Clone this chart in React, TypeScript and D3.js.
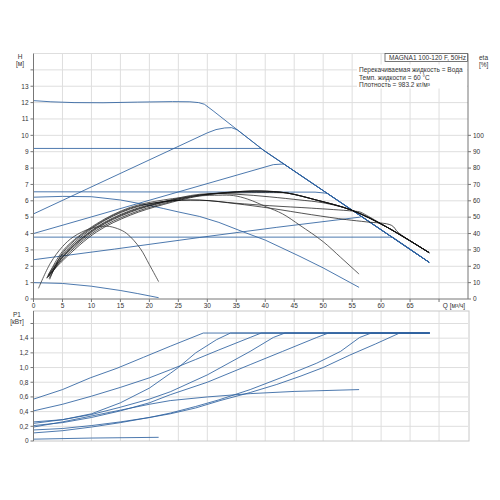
import React, { useEffect, useRef } from 'react';
import * as d3 from 'd3';

type Pt = [number, number];

// axis ticks
const qTicks = [0, 5, 10, 15, 20, 25, 30, 35, 40, 45, 50, 55, 60, 65, 70];
const qLabels = ['0', '5', '10', '15', '20', '25', '30', '35', '40', '45', '50', '55', '60', '65'];
const hTicks = [0, 1, 2, 3, 4, 5, 6, 7, 8, 9, 10, 11, 12, 13, 14];
const hLabels = ['0', '1', '2', '3', '4', '5', '6', '7', '8', '9', '10', '11', '12', '13'];
const etaTicks = [0, 10, 20, 30, 40, 50, 60, 70, 80, 90, 100];
const pTicks = [0, 0.2, 0.4, 0.6, 0.8, 1.0, 1.2, 1.4, 1.6];
const pLabels = ['0', '0,2', '0,4', '0,6', '0,8', '1,0', '1,2', '1,4'];

const infoLines = [
  'Перекачиваемая жидкость = Вода',
  'Темп. жидкости = 60 °C',
  'Плотность = 983.2 кг/м³',
];

// head curves H(Q) [m]
const hMaxTail: Pt[] = [[29.5, 11.9], [31, 11.5], [35.2, 10.33], [39.7, 9.09], [68.3, 2.24]];
const hMaxHead: Pt[] = [[0, 12.12], [3, 12.05], [7, 12.0], [12, 11.99], [18, 12.03], [24, 12.06], [27, 12.05], [28.5, 12.0]];
const h92Head: Pt[] = [[0, 9.2], [39.3, 9.2]];
const hP52Head: Pt[] = [[0, 5.2], [30, 10.15], [31.5, 10.35], [33, 10.45], [34.2, 10.47], [35.2, 10.33]];
const hP40Head: Pt[] = [[0, 4.0], [41.4, 8.21], [43.2, 8.25]];
const h655Head: Pt[] = [[0, 6.55], [48.6, 6.53], [50.7, 6.46]];
const hP24Head: Pt[] = [[0, 2.4], [14, 3.05], [28.7, 3.76], [42, 4.38], [56.3, 5.0], [56.6, 5.05]];
const h378Head: Pt[] = [[0, 3.78], [62, 3.78]];
const hD62: Pt[] = [[0, 6.22], [5, 6.27], [10, 6.25], [15, 6.05], [20, 5.72], [22.4, 5.53], [25, 5.32], [28.7, 5.04], [32, 4.68], [36.2, 4.1], [40, 3.6], [46, 2.6], [50, 1.9], [56.2, 0.71]];
const hMin: Pt[] = [[0, 1.0], [5, 0.95], [10, 0.78], [15, 0.52], [18, 0.33], [21.6, 0.08]];

// efficiency curves eta(Q) [%]
const etaMax: Pt[] = [[2.3, 13], [5.2, 24], [10.9, 41], [16.7, 51.2], [22.4, 57.7], [28.7, 63], [35, 65.5], [39.1, 66], [43.7, 64.8], [48.9, 60.4], [54.9, 54.3], [60.9, 44.1], [68.3, 28.3]];
const eta92Head: Pt[] = [[2.6, 13.5], [5.2, 25], [10.9, 42], [16.7, 52], [22.4, 58.3], [28.7, 63.3], [35, 65.3], [39.3, 65.8]];
const etaP52Head: Pt[] = [[2.5, 14], [5.2, 26], [10.9, 43], [16.7, 53], [22.4, 59], [28.7, 63.5], [35.2, 65.6]];
const etaP40Head: Pt[] = [[2.7, 12.5], [5.2, 26.5], [10.9, 43.5], [16.7, 53.5], [22.4, 59.2], [28.7, 63.5], [35, 64.8], [41.4, 65], [43.2, 64.9]];
const eta655Head: Pt[] = [[2.4, 13], [5.2, 27], [10.9, 44], [16.7, 54], [22.4, 59.5], [28.7, 64], [35, 64], [40.8, 62.4], [46, 60.5], [48.6, 59.5], [50.7, 58.3]];
const etaP24Head: Pt[] = [[2.5, 14.5], [5.2, 28], [10.9, 45], [16.7, 55], [22.4, 59.5], [28.7, 60.4], [35, 58.5], [40.8, 57], [48, 55.5], [54.9, 53.8], [56.3, 53.2], [57.3, 51.5]];
const eta378Head: Pt[] = [[2.8, 12], [5.2, 29], [10.9, 45.5], [16.7, 55.5], [22.4, 59.5], [28.7, 60.4], [35, 58.2], [40.8, 55.5], [48, 51.5], [54, 48.5], [57.5, 47.1], [61.8, 45], [63, 40.5]];
const etaD62: Pt[] = [[2.3, 12.6], [5.2, 30], [10.9, 46], [16.7, 56], [22.4, 60.5], [28.7, 63], [32, 63.4], [34.5, 63.2], [37, 61], [40.2, 56.3], [43, 52], [46, 45], [50, 35], [53, 25.5], [56.2, 15.2]];
const etaMin: Pt[] = [[0.86, 6.5], [2.9, 21.8], [5, 32], [6.9, 38], [9.8, 43], [12.6, 44.5], [14.5, 43], [16.1, 40], [18.4, 31], [20, 21], [21.6, 10.6]];

// power curves P1(Q) [kW]
const pLimit: Pt[] = [[68.4, 1.47]];
const pMax: Pt[] = [[0, 0.57], [5, 0.7], [9.8, 0.86], [14.4, 0.99], [19, 1.14], [23.6, 1.29], [29.3, 1.47]];
const p92: Pt[] = [[0, 0.41], [5, 0.5], [10, 0.61], [15, 0.73], [20, 0.86], [23.6, 0.97], [28, 1.11], [32, 1.24], [37.4, 1.41], [39.3, 1.47]];
const pP52: Pt[] = [[0, 0.26], [5, 0.29], [10, 0.37], [15, 0.52], [20, 0.72], [23.6, 0.92], [25, 1.0], [28, 1.2], [31.6, 1.38], [34, 1.47]];
const pP40: Pt[] = [[0, 0.24], [5, 0.29], [10, 0.36], [15, 0.46], [20, 0.57], [23.6, 0.67], [30, 0.9], [37.4, 1.22], [41.4, 1.41], [43.4, 1.47]];
const p655: Pt[] = [[0, 0.21], [5, 0.25], [10, 0.32], [15, 0.41], [20, 0.52], [23.6, 0.63], [30, 0.8], [37.4, 1.04], [43, 1.22], [48.9, 1.41], [50.9, 1.47]];
const pD62: Pt[] = [[0, 0.19], [5, 0.26], [10, 0.34], [15, 0.42], [20, 0.5], [23.6, 0.55], [30, 0.6], [37.4, 0.645], [45, 0.675], [56.2, 0.7]];
const pP24: Pt[] = [[0, 0.11], [5, 0.14], [10, 0.19], [15, 0.25], [20, 0.32], [23.6, 0.38], [28, 0.47], [32, 0.56], [37.4, 0.7], [43, 0.87], [48.9, 1.06], [53, 1.22], [56.3, 1.41], [58.3, 1.47]];
const p378: Pt[] = [[0, 0.15], [5, 0.17], [10, 0.21], [15, 0.26], [20, 0.32], [23.6, 0.37], [28, 0.45], [32.2, 0.55], [37.4, 0.66], [42, 0.77], [46, 0.88], [50, 1.0], [54.6, 1.17], [59, 1.32], [63.2, 1.47]];
const pMin: Pt[] = [[0, 0.025], [10, 0.04], [21.6, 0.05]];

// continue a control curve along the max curve after it meets it
const join = (head: Pt[], tail: Pt[]) => [...head, ...tail.filter(p => p[0] > head[head.length - 1][0])];

const BLUE = '#2e62a0';
const FONT = '"Liberation Sans", Arial, sans-serif';

const PumpChart: React.FC = () => {
  const ref = useRef<SVGSVGElement>(null);

  useEffect(() => {
    if (!ref.current) return;
    const svg = d3.select(ref.current);
    svg.selectAll('*').remove();

    const left = 33.5, right = 468;
    const topT = 53.5, topB = 299;
    const botT = 311, botB = 441;

    const x = d3.scaleLinear().domain([0, 75]).range([left, right]);
    const yH = d3.scaleLinear().domain([0, 15]).range([topB, topT]);
    const yEta = d3.scaleLinear().domain([0, 150]).range([topB, topT]);
    const yP = d3.scaleLinear().domain([0, 1.77]).range([botB, botT]);

    const grid = svg.append('g').attr('stroke', '#dedede').attr('stroke-width', 1);
    qTicks.slice(1).forEach(q => {
      grid.append('line').attr('x1', x(q)).attr('x2', x(q)).attr('y1', topT).attr('y2', topB);
      grid.append('line').attr('x1', x(q)).attr('x2', x(q)).attr('y1', botT).attr('y2', botB);
    });
    [...hTicks.slice(1), 15].forEach(h => {
      grid.append('line').attr('x1', left).attr('x2', right).attr('y1', yH(h)).attr('y2', yH(h));
    });
    pTicks.slice(1).forEach(p => {
      grid.append('line').attr('x1', left).attr('x2', right).attr('y1', yP(p)).attr('y2', yP(p));
    });
    grid.append('rect').attr('x', left).attr('y', botT).attr('width', right + 1 - left).attr('height', botB - botT)
      .attr('fill', 'none').attr('stroke', '#c8c8c8');

    // white panel behind the fluid info, and the title box
    svg.append('rect').attr('x', 357).attr('y', 64.5).attr('width', 110).attr('height', 24).attr('fill', 'white');
    svg.append('rect').attr('x', 385).attr('y', 53.5).attr('width', 82.5).attr('height', 8)
      .attr('fill', 'white').attr('stroke', '#555').attr('stroke-width', 0.8);

    const lineH = d3.line<Pt>().x(d => x(d[0])).y(d => yH(d[1]));
    const lineEta = d3.line<Pt>().x(d => x(d[0])).y(d => yEta(d[1])).curve(d3.curveCatmullRom.alpha(0.5));
    const lineP = d3.line<Pt>().x(d => x(d[0])).y(d => yP(d[1]));

    const hCurves = [
      [...hMaxHead, ...hMaxTail],
      join(h92Head, hMaxTail),
      join(hP52Head, hMaxTail),
      join(hP40Head, hMaxTail),
      join(h655Head, hMaxTail),
      join(hP24Head, hMaxTail),
      join(h378Head, hMaxTail),
      hD62,
      hMin,
    ];
    svg.append('g').selectAll('path').data(hCurves).enter().append('path')
      .attr('d', d => lineH(d))
      .attr('fill', 'none').attr('stroke', BLUE).attr('stroke-width', 1).attr('stroke-opacity', 0.85);

    const etaCurves = [
      etaMax,
      join(eta92Head, etaMax),
      join(etaP52Head, etaMax),
      join(etaP40Head, etaMax),
      join(eta655Head, etaMax),
      join(etaP24Head, etaMax),
      join(eta378Head, etaMax),
    ];
    svg.append('g').selectAll('path').data(etaCurves).enter().append('path')
      .attr('d', d => lineEta(d))
      .attr('fill', 'none').attr('stroke', '#111').attr('stroke-width', 0.9).attr('stroke-opacity', 0.8);
    svg.append('g').selectAll('path').data([etaD62, etaMin]).enter().append('path')
      .attr('d', d => lineEta(d))
      .attr('fill', 'none').attr('stroke', '#3a3a3a').attr('stroke-width', 0.9).attr('stroke-opacity', 0.9);

    const pCurves = [
      [...pMax, ...pLimit],
      [...p92, ...pLimit],
      [...pP52, ...pLimit],
      [...pP40, ...pLimit],
      [...p655, ...pLimit],
      [...pP24, ...pLimit],
      [...p378, ...pLimit],
      pD62,
      pMin,
    ];
    svg.append('g').selectAll('path').data(pCurves).enter().append('path')
      .attr('d', d => lineP(d))
      .attr('fill', 'none').attr('stroke', BLUE).attr('stroke-width', 1).attr('stroke-opacity', 0.85);

    // axes
    const ax = svg.append('g').attr('stroke', '#777').attr('stroke-width', 1);
    ax.append('line').attr('x1', left).attr('x2', left).attr('y1', topT).attr('y2', topB);
    ax.append('line').attr('x1', left).attr('x2', right).attr('y1', topB).attr('y2', topB);
    ax.append('line').attr('x1', right).attr('x2', right).attr('y1', topT).attr('y2', topB);
    ax.append('line').attr('x1', left).attr('x2', left).attr('y1', botT).attr('y2', botB);
    hTicks.forEach(h => ax.append('line').attr('x1', left - 3).attr('x2', left).attr('y1', yH(h)).attr('y2', yH(h)));
    qTicks.forEach(q => ax.append('line').attr('x1', x(q)).attr('x2', x(q)).attr('y1', topB).attr('y2', topB + 3));
    etaTicks.forEach(e => ax.append('line').attr('x1', right).attr('x2', right + 3).attr('y1', yEta(e)).attr('y2', yEta(e)));
    pTicks.forEach(p => ax.append('line').attr('x1', left - 3).attr('x2', left).attr('y1', yP(p)).attr('y2', yP(p)));

    const txt = svg.append('g').attr('font-family', FONT).attr('font-size', 6.5).attr('fill', '#333');
    hLabels.forEach((l, i) => txt.append('text').attr('x', left - 5).attr('y', yH(hTicks[i]) + 2.3).attr('text-anchor', 'end').text(l));
    qLabels.forEach((l, i) => txt.append('text').attr('x', x(qTicks[i])).attr('y', 308).attr('text-anchor', 'middle').text(l));
    etaTicks.forEach(e => txt.append('text').attr('x', right + 5).attr('y', yEta(e) + 2.3).text(String(e)));
    pLabels.forEach((l, i) => txt.append('text').attr('x', left - 5).attr('y', yP(pTicks[i]) + 2.3).attr('text-anchor', 'end').text(l));

    txt.append('text').attr('x', 20).attr('y', 58.5).attr('text-anchor', 'middle').text('H');
    txt.append('text').attr('x', 20).attr('y', 66).attr('text-anchor', 'middle').text('[м]');
    txt.append('text').attr('x', 479).attr('y', 60).text('eta');
    txt.append('text').attr('x', 479).attr('y', 66.5).text('[%]');
    txt.append('text').attr('x', 454).attr('y', 308).attr('text-anchor', 'middle').text('Q [м³/ч]');
    txt.append('text').attr('x', 17).attr('y', 317).attr('text-anchor', 'middle').text('P1');
    txt.append('text').attr('x', 17).attr('y', 323.5).attr('text-anchor', 'middle').text('[кВт]');

    txt.append('text').attr('x', 466).attr('y', 60).attr('text-anchor', 'end').text('MAGNA1 100-120 F, 50Hz');
    infoLines.forEach((l, i) => txt.append('text').attr('x', 359).attr('y', 72.3 + i * 7.2).text(l));
  }, []);

  return <svg ref={ref} width={500} height={500} style={{ position: 'absolute', left: 0, top: 0, background: 'white' }} />;
};

export default function App() {
  return <PumpChart />;
}
